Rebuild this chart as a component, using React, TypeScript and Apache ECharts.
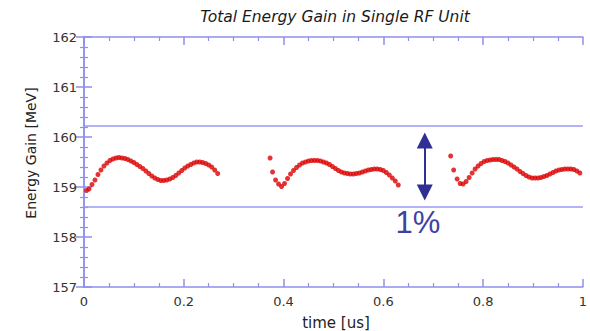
import React, { useEffect, useRef } from "react";
import * as echarts from "echarts";

const titleText = "Total Energy Gain in Single RF Unit";
const xName = "time [us]";
const yName = "Energy Gain [MeV]";
const bandLabel = "1%";

const xMin = 0, xMax = 1, xStep = 0.2;
const yMin = 157, yMax = 162, yStep = 1;

const bandUpper = 160.22;
const bandLower = 158.6;
const arrowX = 0.683;
const arrowTop = 159.93;
const arrowBottom = 158.89;

const seg1: [number, number][] = [
  [0.005, 158.93], [0.010, 158.96], [0.016, 159.05], [0.022, 159.14], [0.028, 159.25],
  [0.034, 159.34], [0.040, 159.42], [0.046, 159.48], [0.052, 159.53], [0.058, 159.56],
  [0.064, 159.58], [0.070, 159.59], [0.076, 159.58], [0.082, 159.57], [0.088, 159.55],
  [0.094, 159.52], [0.100, 159.49], [0.106, 159.45], [0.112, 159.41], [0.118, 159.37],
  [0.124, 159.32], [0.130, 159.27], [0.136, 159.22], [0.142, 159.18], [0.148, 159.15],
  [0.154, 159.13], [0.160, 159.13], [0.166, 159.14], [0.172, 159.16], [0.178, 159.19],
  [0.184, 159.23], [0.190, 159.28], [0.196, 159.33], [0.202, 159.38], [0.208, 159.42],
  [0.214, 159.45], [0.220, 159.48], [0.226, 159.50], [0.232, 159.50], [0.238, 159.49],
  [0.244, 159.47], [0.250, 159.44], [0.256, 159.40], [0.262, 159.34], [0.268, 159.27],
];

const seg2: [number, number][] = [
  [0.373, 159.58], [0.378, 159.30], [0.384, 159.14], [0.390, 159.06], [0.396, 159.01],
  [0.402, 159.07], [0.408, 159.17], [0.414, 159.26], [0.420, 159.33], [0.426, 159.39],
  [0.432, 159.44], [0.438, 159.48], [0.444, 159.50], [0.450, 159.52], [0.456, 159.53],
  [0.462, 159.53], [0.468, 159.53], [0.474, 159.52], [0.480, 159.50], [0.486, 159.48],
  [0.492, 159.45], [0.498, 159.41], [0.504, 159.37], [0.510, 159.33], [0.516, 159.30],
  [0.522, 159.28], [0.528, 159.27], [0.534, 159.26], [0.540, 159.26], [0.546, 159.27],
  [0.552, 159.28], [0.558, 159.30], [0.564, 159.32], [0.570, 159.34], [0.576, 159.35],
  [0.582, 159.36], [0.588, 159.36], [0.594, 159.35], [0.600, 159.33], [0.606, 159.29],
  [0.612, 159.24], [0.618, 159.18], [0.624, 159.12], [0.630, 159.04],
];

const seg3: [number, number][] = [
  [0.735, 159.62], [0.741, 159.34], [0.748, 159.16], [0.754, 159.07], [0.760, 159.06],
  [0.766, 159.11], [0.772, 159.19], [0.778, 159.28], [0.784, 159.36], [0.790, 159.42],
  [0.796, 159.47], [0.802, 159.51], [0.808, 159.53], [0.814, 159.54], [0.820, 159.55],
  [0.826, 159.55], [0.832, 159.55], [0.838, 159.53], [0.844, 159.51], [0.850, 159.48],
  [0.856, 159.44], [0.862, 159.40], [0.868, 159.36], [0.874, 159.31], [0.880, 159.27],
  [0.886, 159.23], [0.892, 159.20], [0.898, 159.18], [0.904, 159.18], [0.910, 159.18],
  [0.916, 159.19], [0.922, 159.21], [0.928, 159.23], [0.934, 159.26], [0.940, 159.29],
  [0.946, 159.32], [0.952, 159.34], [0.958, 159.35], [0.964, 159.36], [0.970, 159.36],
  [0.976, 159.36], [0.982, 159.35], [0.988, 159.32], [0.994, 159.28],
];

const FONT = "DejaVu Sans";
const AXIS_COLOR = "#8f8fec";

export default function App() {
  const ref = useRef<HTMLDivElement>(null);
  useEffect(() => {
    if (!ref.current) return;
    const chart = echarts.init(ref.current, null, { renderer: "svg" });
    const axisCommon = {
      type: "value" as const,
      axisLine: { show: true, lineStyle: { color: AXIS_COLOR, width: 1.5 } },
      axisTick: { show: true, inside: true, length: 8, lineStyle: { color: AXIS_COLOR, width: 1.5 } },
      minorTick: { show: true, length: 4, lineStyle: { color: AXIS_COLOR, width: 1.2 } },
      splitLine: { show: false },
    };
    const dotStyle = {
      type: "scatter" as const,
      symbol: "circle",
      symbolSize: 5,
      itemStyle: { color: "#dc0000" },
      silent: true,
    };
    chart.setOption({
      animation: false,
      backgroundColor: "#ffffff",
      grid: { left: 84, right: 6, top: 37, bottom: 44 },
      xAxis: [
        {
          ...axisCommon,
          position: "bottom",
          min: xMin, max: xMax, interval: xStep,
          minorTick: { ...axisCommon.minorTick, splitNumber: 4 },
          axisLabel: { color: "#333", fontFamily: FONT, fontSize: 13, margin: 8 },
        },
        {
          ...axisCommon,
          position: "top",
          min: xMin, max: xMax, interval: xStep,
          minorTick: { ...axisCommon.minorTick, splitNumber: 4 },
          axisLabel: { show: false },
        },
      ],
      yAxis: [
        {
          ...axisCommon,
          position: "left",
          min: yMin, max: yMax, interval: yStep,
          minorTick: { ...axisCommon.minorTick, splitNumber: 5 },
          axisLabel: { color: "#333", fontFamily: FONT, fontSize: 13, margin: 7 },
        },
        {
          ...axisCommon,
          position: "right",
          min: yMin, max: yMax, interval: yStep,
          minorTick: { ...axisCommon.minorTick, splitNumber: 5 },
          axisLabel: { show: false },
        },
      ],
      series: [
        {
          ...dotStyle,
          data: seg1,
          markLine: {
            silent: true,
            symbol: "none",
            label: { show: false },
            lineStyle: { color: "#9a9af2", width: 1.5, type: "solid" },
            data: [{ yAxis: bandUpper }, { yAxis: bandLower }],
          },
        },
        { ...dotStyle, data: seg2 },
        {
          ...dotStyle,
          data: seg3,
          markLine: {
            silent: true,
            symbol: ["triangle", "triangle"],
            symbolSize: [16, 16],
            label: { show: false },
            lineStyle: { color: "#2f2f94", width: 2, type: "solid" },
            data: [[{ coord: [arrowX, arrowTop] }, { coord: [arrowX, arrowBottom] }]],
          },
        },
      ],
      graphic: [
        {
          type: "text",
          x: 335,
          y: 17,
          style: {
            text: titleText,
            fontFamily: FONT,
            fontStyle: "italic",
            fontSize: 15.5,
            fill: "#1a1a1a",
            textAlign: "center",
            textVerticalAlign: "middle",
          },
        },
        {
          type: "text",
          x: 336,
          y: 323,
          style: {
            text: xName,
            fontFamily: FONT,
            fontSize: 15,
            fill: "#222",
            textAlign: "center",
            textVerticalAlign: "middle",
          },
        },
        {
          type: "text",
          x: 31,
          y: 153,
          rotation: Math.PI / 2,
          style: {
            text: yName,
            fontFamily: FONT,
            fontSize: 14,
            fill: "#222",
            textAlign: "center",
            textVerticalAlign: "middle",
          },
        },
        {
          type: "text",
          x: 418,
          y: 222,
          style: {
            text: bandLabel,
            fontFamily: "Liberation Sans",
            fontSize: 31,
            fill: "#4040a4",
            textAlign: "center",
            textVerticalAlign: "middle",
          },
        },
      ],
    });
    return () => chart.dispose();
  }, []);
  return (
    <div
      ref={ref}
      style={{ position: "fixed", left: 0, top: 0, width: 590, height: 331, background: "#fff" }}
    />
  );
}
